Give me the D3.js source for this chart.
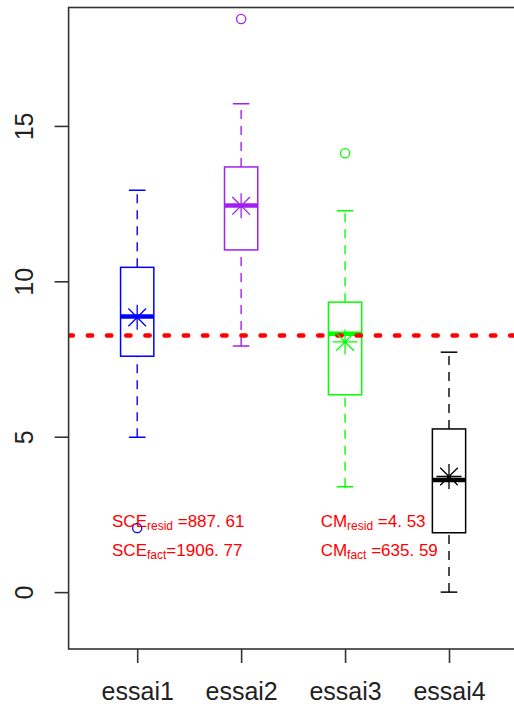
<!DOCTYPE html>
<html>
<head>
<meta charset="utf-8">
<script src="https://cdn.jsdelivr.net/npm/d3@7"></script>
<style>
  html, body { margin: 0; padding: 0; background: #fff; }
  svg { display: block; font-family: "Liberation Sans", Arial, sans-serif; }
</style>
</head>
<body>
<div id="chart"></div>
<script>
// Five-number summaries per trial, plus group means and outliers
const categories   = ["essai1", "essai2", "essai3", "essai4"];
const boxColors    = ["#0000FF", "#A020F0", "#00FF00", "#000000"];
const whiskerLow   = [4.98, 7.92, 3.39, 0.00];
const lowerQuart   = [7.59, 11.01, 6.35, 1.91];
const medians      = [8.87, 12.44, 8.31, 3.61];
const upperQuart   = [10.45, 13.68, 9.33, 5.25];
const whiskerHigh  = [12.93, 15.71, 12.27, 7.72];
const groupMeans   = [8.84, 12.43, 8.05, 3.72];
const outliers     = [[2.06], [18.44], [14.12], []];
const grandMean    = 8.26;
const yTicks       = [0, 5, 10, 15];

// ANOVA summary values shown inside the plot
const sceLabels = [["SCE", "resid", " =887. 61"], ["SCE", "fact", "=1906. 77"]];
const cmLabels  = [["CM", "resid", " =4. 53"], ["CM", "fact", " =635. 59"]];

const W = 514, H = 711;
const x = d3.scaleLinear().domain([0.34, 4.66]).range([68.6, 517.6]);
const y = d3.scaleLinear().domain([-1.83, 18.81]).range([649, 7.5]);
const boxHalf = 0.16;          // half box width, x units
const stapleHalf = boxHalf / 2;

const svg = d3.select("#chart").append("svg")
  .attr("width", W).attr("height", H);

svg.append("defs").append("clipPath").attr("id", "plotClip")
  .append("rect")
  .attr("x", x(0.34)).attr("y", y(18.81))
  .attr("width", x(4.66) - x(0.34)).attr("height", y(-1.83) - y(18.81));

const plot = svg.append("g").attr("clip-path", "url(#plotClip)");

// Boxes
const groups = plot.selectAll("g.box").data(categories).join("g").attr("class", "box");

groups.each(function(c, i) {
  const g = d3.select(this);
  const col = boxColors[i];
  const xc = x(i + 1);
  // whiskers
  [[whiskerLow[i], lowerQuart[i]], [upperQuart[i], whiskerHigh[i]]].forEach(([a, b]) => {
    g.append("line")
      .attr("x1", xc).attr("x2", xc)
      .attr("y1", y(a)).attr("y2", y(b))
      .attr("stroke", col).attr("stroke-width", 1.4)
      .attr("stroke-dasharray", "9,7");
  });
  // staples
  [whiskerLow[i], whiskerHigh[i]].forEach(v => {
    g.append("line")
      .attr("x1", x(i + 1 - stapleHalf)).attr("x2", x(i + 1 + stapleHalf))
      .attr("y1", y(v)).attr("y2", y(v))
      .attr("stroke", col).attr("stroke-width", 1.5);
  });
  // box
  g.append("rect")
    .attr("x", x(i + 1 - boxHalf)).attr("width", x(i + 1 + boxHalf) - x(i + 1 - boxHalf))
    .attr("y", y(upperQuart[i])).attr("height", y(lowerQuart[i]) - y(upperQuart[i]))
    .attr("fill", "none").attr("stroke", col).attr("stroke-width", 1.5);
  // median
  g.append("line")
    .attr("x1", x(i + 1 - boxHalf)).attr("x2", x(i + 1 + boxHalf))
    .attr("y1", y(medians[i])).attr("y2", y(medians[i]))
    .attr("stroke", col).attr("stroke-width", 4.5);
  // outliers
  g.selectAll("circle").data(outliers[i]).join("circle")
    .attr("cx", xc).attr("cy", d => y(d)).attr("r", 4.6)
    .attr("fill", "none").attr("stroke", col).attr("stroke-width", 1.3);
});

// Grand mean reference line
plot.append("line")
  .attr("x1", x(0.34)).attr("x2", x(4.66))
  .attr("y1", y(grandMean)).attr("y2", y(grandMean))
  .attr("stroke", "#FF0000").attr("stroke-width", 4.5)
  .attr("stroke-linecap", "round")
  .attr("stroke-dasharray", "4.3,14.9");

// Group means as asterisks
function asterisk(cx, cy) {
  const p = 12.5, d = 8.8;
  return `M${cx},${cy - p}L${cx},${cy + p}M${cx - p},${cy}L${cx + p},${cy}` +
         `M${cx - d},${cy - d}L${cx + d},${cy + d}M${cx - d},${cy + d}L${cx + d},${cy - d}`;
}
plot.selectAll("path.mean").data(groupMeans).join("path")
  .attr("class", "mean")
  .attr("d", (m, i) => asterisk(x(i + 1), y(m)))
  .attr("fill", "none")
  .attr("stroke", (m, i) => boxColors[i])
  .attr("stroke-width", 1.3);

// Annotations
function drawLabel(parts, px, py) {
  const t = svg.append("text")
    .attr("x", px).attr("y", py)
    .attr("fill", "#FF0000").attr("font-size", 17);
  t.append("tspan").text(parts[0]);
  t.append("tspan").attr("font-size", 12).attr("dy", 3).text(parts[1]);
  t.append("tspan").attr("dy", -3).text(parts[2]);
}
sceLabels.forEach((p, k) => drawLabel(p, x(0.758), y(k === 0 ? 2.10 : 1.15)));
cmLabels.forEach((p, k) => drawLabel(p, x(2.765), y(k === 0 ? 2.10 : 1.15)));

// Frame
const frame = svg.append("g").attr("stroke", "#333").attr("stroke-width", 1.6).attr("fill", "none");
frame.append("rect")
  .attr("x", x(0.34)).attr("y", y(18.81))
  .attr("width", x(4.66) - x(0.34)).attr("height", y(-1.83) - y(18.81));

// Y axis
const yAxis = svg.append("g")
  .attr("transform", `translate(${x(0.34)},0)`)
  .call(d3.axisLeft(y).tickValues(yTicks).tickSize(14).tickSizeOuter(0).tickFormat(d3.format("d")));
yAxis.select(".domain").remove();
yAxis.selectAll(".tick line").attr("stroke", "#333").attr("stroke-width", 1.6);
yAxis.selectAll(".tick text")
  .attr("x", null).attr("dy", null)
  .attr("transform", `translate(${33 - x(0.34)},0) rotate(-90)`)
  .attr("text-anchor", "middle")
  .attr("font-size", 25)
  .attr("font-family", "Liberation Sans, Arial, sans-serif")
  .attr("fill", "#222");

// X axis
const xAxis = svg.append("g")
  .attr("transform", `translate(0,${y(-1.83)})`)
  .call(d3.axisBottom(x).tickValues([1, 2, 3, 4]).tickSize(14).tickSizeOuter(0)
    .tickFormat((d, i) => categories[i]));
xAxis.select(".domain").remove();
xAxis.selectAll(".tick line").attr("stroke", "#333").attr("stroke-width", 1.6);
xAxis.selectAll(".tick text")
  .attr("y", 51).attr("dy", null)
  .attr("font-size", 25)
  .attr("font-family", "Liberation Sans, Arial, sans-serif")
  .attr("fill", "#222");
</script>
</body>
</html>
